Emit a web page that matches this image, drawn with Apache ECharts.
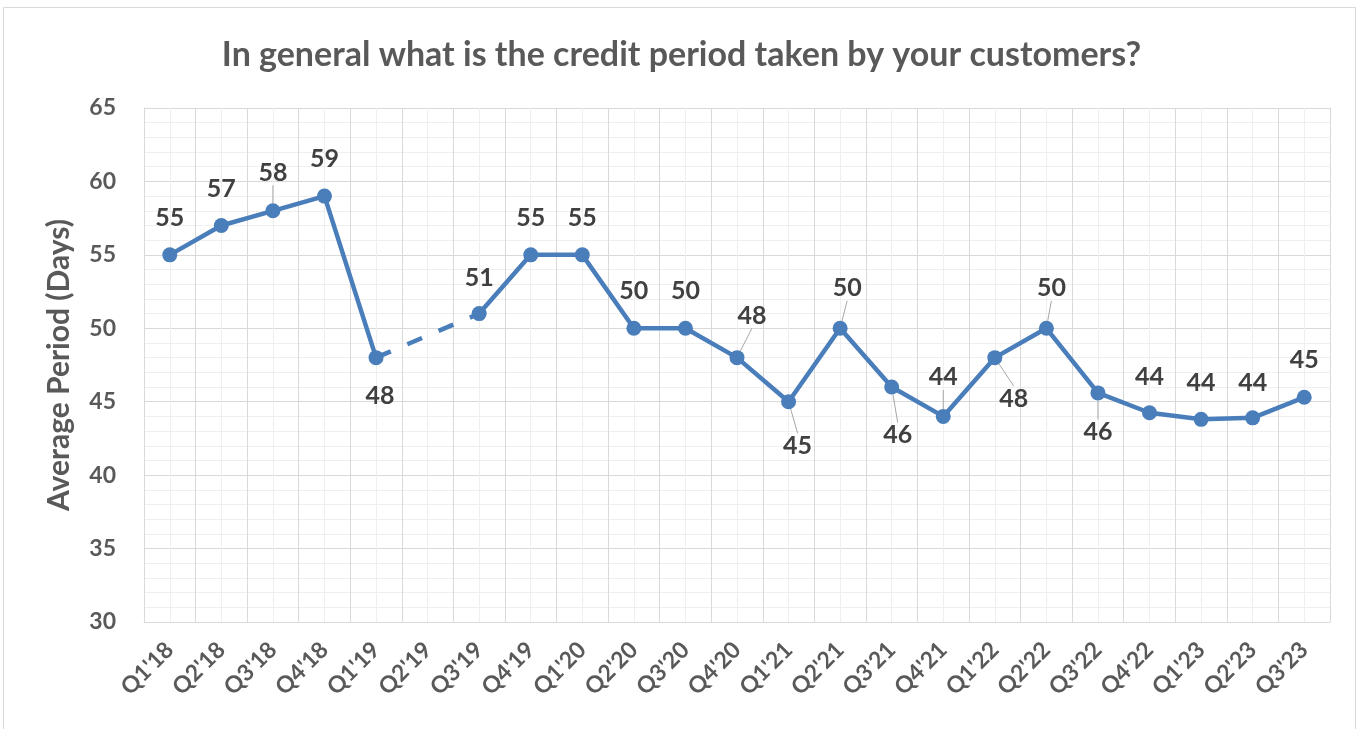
<!DOCTYPE html>
<html>
<head>
<meta charset="utf-8">
<script src="https://cdn.jsdelivr.net/npm/echarts@6/dist/echarts.min.js"></script>
<style>
  html, body { margin: 0; padding: 0; background: #fff; }
  #chart { width: 1363px; height: 729px; }
</style>
</head>
<body>
<div id="chart"></div>
<script>
const quarters = ["Q1'18", "Q2'18", "Q3'18", "Q4'18", "Q1'19", "Q2'19", "Q3'19", "Q4'19",
    "Q1'20", "Q2'20", "Q3'20", "Q4'20", "Q1'21", "Q2'21", "Q3'21", "Q4'21",
    "Q1'22", "Q2'22", "Q3'22", "Q4'22", "Q1'23", "Q2'23", "Q3'23"];
const avgDays = [55, 57, 58, 59, 48, null, 51, 55, 55, 50, 50, 48, 45, 50, 46, 44,
    48, 50, 45.6, 44.25, 43.8, 43.9, 45.3];
const shownLabels = [55, 57, 58, 59, 48, null, 51, 55, 55, 50, 50, 48, 45, 50, 46, 44,
    48, 50, 46, 44, 44, 44, 45];
const yTicks = { min: 30, max: 65, step: 5 };

// label nudges (px) relative to the marker, and which ones get a leader line
const labelShift = [[0, -37], [0, -37], [0, -38], [0, -37], [4, 38], null, [0, -36], [0, -37],
    [0, -37], [0, -37], [0, -37], [15, -42], [9, 44], [7, -40], [6, 48], [0, -39],
    [19, 41], [5, -40], [0, 39], [0, -36], [0, -36], [0, -35], [0, -37]];
const withLeader = [2, 11, 12, 13, 14, 15, 16, 17, 18];

const blue = '#4a7ebb';
const gray = '#595959';

// dashed bridge over the missing quarter
const gapIdx = avgDays.indexOf(null);
const bridge = avgDays.map((v, i) => (i === gapIdx - 1 || i === gapIdx + 1) ? v : null);

const chart = echarts.init(document.getElementById('chart'));
chart.setOption({
    animation: false,
    textStyle: { fontFamily: 'Lato, "Open Sans", sans-serif' },
    title: {
        text: 'In general what is the credit period taken by your customers?',
        left: 'center',
        top: 33,
        textStyle: { fontSize: 34, fontWeight: 'bold', color: gray, fontFamily: 'Lato' }
    },
    graphic: [{
        type: 'rect',
        shape: { x: 3.5, y: 7.5, width: 1352, height: 740 },
        style: { fill: 'none', stroke: '#d9d9d9', lineWidth: 1 },
        silent: true
    }],
    grid: { left: 144, right: 33, top: 108, bottom: 107 },
    xAxis: [{
        type: 'category',
        data: quarters,
        boundaryGap: true,
        axisLine: { show: true, lineStyle: { color: '#d9d9d9', width: 1 } },
        axisTick: { show: false },
        splitLine: { show: false },
        axisLabel: {
            interval: 0, rotate: 45, color: gray, fontSize: 23, fontWeight: 'bold', margin: 24
        }
    }, {
        type: 'value',
        min: 0, max: quarters.length, interval: 1,
        show: true,
        position: 'bottom',
        axisLine: { show: false },
        axisTick: { show: false },
        axisLabel: { show: false },
        splitLine: { show: true, lineStyle: { color: '#d9d9d9', width: 1 } },
        minorTick: { show: false, splitNumber: 2 },
        minorSplitLine: { show: true, lineStyle: { color: '#efefef', width: 1 } }
    }],
    yAxis: {
        type: 'value',
        min: yTicks.min, max: yTicks.max, interval: yTicks.step,
        name: 'Average Period (Days)',
        nameLocation: 'middle',
        nameGap: 70,
        nameTextStyle: { fontSize: 30, fontWeight: 'bold', color: gray },
        axisLine: { show: true, lineStyle: { color: '#d9d9d9' } },
        axisTick: { show: false },
        axisLabel: { color: gray, fontSize: 23, fontWeight: 'bold', margin: 28 },
        splitLine: { lineStyle: { color: '#d9d9d9', width: 1 } },
        minorTick: { show: false, splitNumber: 5 },
        minorSplitLine: { show: true, lineStyle: { color: '#efefef', width: 1 } }
    },
    series: [{
        type: 'line',
        data: bridge,
        connectNulls: true,
        symbol: 'none',
        lineStyle: { color: blue, width: 4.5, type: [16, 18] },
        z: 1,
        silent: true
    }, {
        type: 'line',
        data: avgDays.map((v, i) => ({
            value: v,
            labelLine: { show: withLeader.includes(i) }
        })),
        connectNulls: false,
        symbol: 'circle',
        symbolSize: 15,
        itemStyle: { color: blue },
        lineStyle: { color: blue, width: 4.5 },
        z: 3,
        label: {
            show: true,
            position: 'inside',
            color: '#404040',
            fontSize: 25,
            fontWeight: 'bold',
            formatter: p => shownLabels[p.dataIndex]
        },
        labelLine: { show: false, lineStyle: { color: '#a6a6a6', width: 1 } },
        labelLayout: p => {
            const s = labelShift[p.dataIndex] || [0, 0];
            return { dx: s[0], dy: s[1] };
        }
    }]
});
</script>
</body>
</html>
